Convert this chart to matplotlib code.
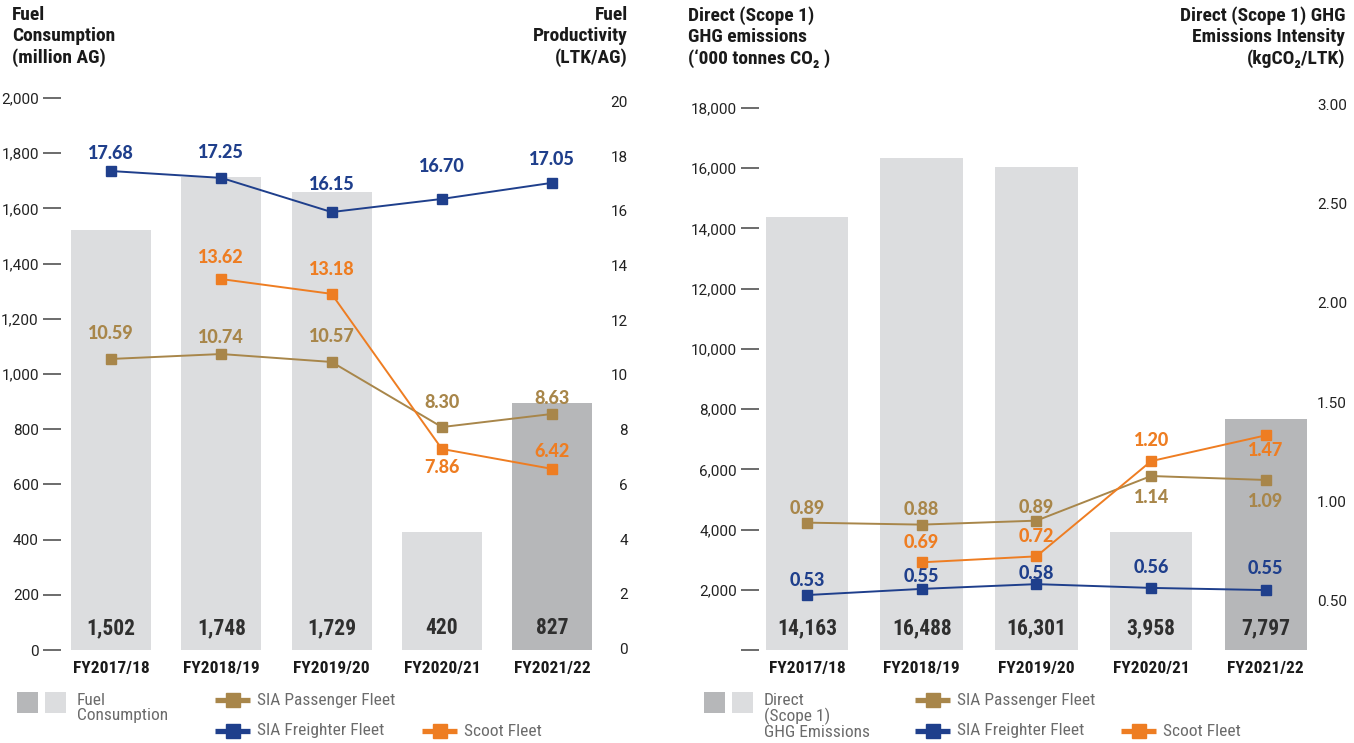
import matplotlib
matplotlib.use('Agg')
import matplotlib.pyplot as plt
from matplotlib.patches import Rectangle
from matplotlib.transforms import blended_transform_factory
import numpy as np

years = ['FY2017/18', 'FY2018/19', 'FY2019/20', 'FY2020/21', 'FY2021/22']

# left chart - fuel consumption (bars) and fuel productivity (lines)
fuel_bars = [1522, 1714, 1659, 428, 895]
fuel_labels = ['1,502', '1,748', '1,729', '420', '827']
prod_freighter = [17.51, 17.26, 16.01, 16.49, 17.08]
prod_freighter_lbl = ['17.68', '17.25', '16.15', '16.70', '17.05']
prod_passenger = [10.64, 10.82, 10.53, 8.15, 8.63]
prod_passenger_lbl = ['10.59', '10.74', '10.57', '8.30', '8.63']
prod_scoot = [np.nan, 13.56, 13.02, 7.35, 6.62]
prod_scoot_lbl = ['', '13.62', '13.18', '7.86', '6.42']

# right chart - scope 1 GHG emissions (bars) and intensity (lines)
ghg_bars = [14380, 16340, 16040, 3920, 7670]
ghg_labels = ['14,163', '16,488', '16,301', '3,958', '7,797']
int_passenger = [0.90, 0.89, 0.91, 1.135, 1.115]
int_passenger_lbl = ['0.89', '0.88', '0.89', '1.14', '1.09']
int_freighter = [0.535, 0.566, 0.59, 0.571, 0.56]
int_freighter_lbl = ['0.53', '0.55', '0.58', '0.56', '0.55']
int_scoot = [np.nan, 0.70, 0.73, 1.21, 1.34]
int_scoot_lbl = ['', '0.69', '0.72', '1.20', '1.47']

# label offsets in pixels (positive = above the point)
off_l = {'f': [18, 25, 28, 32, 23], 'p': [25, 17, 25, 25, 15], 's': [0, 22, 24, -19, 17]}
off_r = {'f': [15, 12, 11, 20, 22], 'p': [14, 15, 13, -21, -22], 's': [0, 20, 20, 21, -15]}

NAVY = '#1f3f8c'
GOLD = '#a8864a'
ORANGE = '#ee7d22'
LIGHT = '#dcdddf'
DARK = '#b6b7b9'
NARROW = ['Roboto Condensed', 'Roboto', 'DejaVu Sans']
TICKF = ['Roboto', 'DejaVu Sans']
NUMF = ['Lato', 'DejaVu Sans']

W, H = 1354, 743
fig = plt.figure(figsize=(W / 100, H / 100), dpi=100)


def px_rect(left, top, right, bottom):
    return [left / W, 1 - bottom / H, (right - left) / W, (bottom - top) / H]


def panel(rect, xlim, width, bars, bar_lbls, ylim, yticks, yticklbls,
          ylim2, yticks2, yticklbls2, rpad, series, offs):
    ax = fig.add_axes(rect)
    x = np.arange(len(years))
    cols = [LIGHT] * (len(bars) - 1) + [DARK]
    ax.bar(x, bars, width=width, color=cols, zorder=1)
    for xi, t in zip(x, bar_lbls):
        ax.annotate(t, (xi, 0), xytext=(0, 22), textcoords='offset pixels',
                    ha='center', va='center', fontsize=15.5, fontweight='bold',
                    color='#2f2f2f', family=NARROW)
    ax.set_xlim(*xlim)
    ax.set_ylim(*ylim)
    ax.set_xticks(x)
    ax.set_xticklabels(years, fontsize=12.5, fontweight='bold', family=NARROW, color='#1a1a1a')
    ax.tick_params(axis='x', length=0, pad=8)
    ax.set_yticks(yticks)
    ax.set_yticklabels(yticklbls, fontsize=11, family=TICKF, color='#222222')
    ax.tick_params(axis='y', length=13, width=1.1, color='#444444', pad=3, direction='out')
    for s in ax.spines.values():
        s.set_visible(False)

    ax2 = ax.twinx()
    ax2.set_ylim(*ylim2)
    ax2.set_yticks([])
    for s in ax2.spines.values():
        s.set_visible(False)
    # right axis labels, right aligned
    tr = blended_transform_factory(ax2.transAxes, ax2.transData)
    axw = rect[2] * W
    for v, t in zip(yticks2, yticklbls2):
        ax2.text(1 + rpad / axw, v, t, transform=tr, ha='right', va='center',
                 fontsize=11, family=TICKF, color='#222222')
    for (vals, lbls, col), key in zip(series, ['p', 'f', 's']):
        ax2.plot(x, vals, color=col, lw=1.4, marker='s', ms=7.5, zorder=3)
        for xi, v, t, dy in zip(x, vals, lbls, offs[key]):
            if t:
                ax2.annotate(t, (xi, v), xytext=(0, dy), textcoords='offset pixels',
                             ha='center', va='center', fontsize=13, fontweight='black',
                             color=col, family=NUMF)
    return ax, ax2


panel(px_rect(61, 98, 595, 650), (-0.453, 4.388), 0.725,
      fuel_bars, fuel_labels, (0, 2000), range(0, 2001, 200),
      ['{:,}'.format(v) for v in range(0, 2001, 200)],
      (0, 20.18), range(0, 21, 2), [str(v) for v in range(0, 21, 2)], 33,
      [(prod_passenger, prod_passenger_lbl, GOLD),
       (prod_freighter, prod_freighter_lbl, NAVY),
       (prod_scoot, prod_scoot_lbl, ORANGE)], off_l)

rt = np.arange(0, 18001, 2000)
panel(px_rect(759, 108, 1310, 650), (-0.418, 4.385), 0.72,
      ghg_bars, ghg_labels, (0, 18000), rt,
      [''] + ['{:,}'.format(v) for v in rt[1:]],
      (0.258, 2.99), [0.5, 1.0, 1.5, 2.0, 2.5, 3.0],
      ['0.50', '1.00', '1.50', '2.00', '2.50', '3.00'], 37,
      [(int_passenger, int_passenger_lbl, GOLD),
       (int_freighter, int_freighter_lbl, NAVY),
       (int_scoot, int_scoot_lbl, ORANGE)], off_r)

# overlay for titles and legends (pixel coordinates)
ov = fig.add_axes([0, 0, 1, 1], zorder=5)
ov.set_xlim(0, W)
ov.set_ylim(H, 0)
ov.axis('off')

tkw = dict(fontsize=14, fontweight='bold', family=NARROW, color='#1a1a1a',
           va='top', linespacing=1.22)
ov.text(12, 6, 'Fuel\nConsumption\n(million AG)', ha='left', **tkw)
ov.text(628, 6, 'Fuel\nProductivity\n(LTK/AG)', ha='right', multialignment='right', **tkw)
ov.text(688, 6, 'Direct (Scope 1)\nGHG emissions\n(\u2018000 tonnes CO\u2082 )', ha='left', **tkw)
ov.text(1345, 6, 'Direct (Scope 1) GHG\nEmissions Intensity\n(kgCO\u2082/LTK)', ha='right',
        multialignment='right', **tkw)

lkw = dict(fontsize=12.5, family=NARROW, color='#6b6b6b', va='center')


def legend_line(x0, y, col, text):
    ov.plot([x0, x0 + 35], [y, y], color=col, lw=3.8, solid_capstyle='butt')
    ov.plot([x0 + 17.5], [y], marker='s', ms=10, color=col)
    ov.text(x0 + 42, y, text, ha='left', **lkw)


def legend_block(x0, text):
    ov.add_patch(Rectangle((x0, 692), 21, 21, color=DARK, lw=0))
    ov.add_patch(Rectangle((x0 + 28, 692), 21, 21, color=LIGHT, lw=0))
    ov.text(x0 + 60, 693, text, ha='left', **dict(lkw, va='top', linespacing=1.0))


legend_block(17, 'Fuel\nConsumption')
legend_line(215, 700, GOLD, 'SIA Passenger Fleet')
legend_line(215, 731, NAVY, 'SIA Freighter Fleet')
legend_line(422, 731, ORANGE, 'Scoot Fleet')

legend_block(704, 'Direct\n(Scope 1)\nGHG Emissions')
legend_line(915, 700, GOLD, 'SIA Passenger Fleet')
legend_line(915, 731, NAVY, 'SIA Freighter Fleet')
legend_line(1121, 731, ORANGE, 'Scoot Fleet')

fig.savefig('out.png', dpi=100)
